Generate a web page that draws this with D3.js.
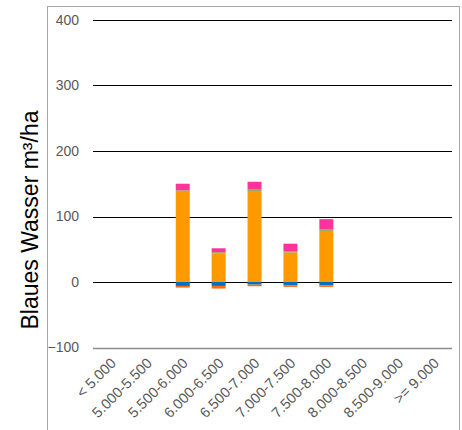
<!DOCTYPE html>
<html><head><meta charset="utf-8">
<script src="https://cdn.jsdelivr.net/npm/d3@7"></script>
<style>body{margin:0;background:#fff}svg{display:block}</style>
</head><body><svg id="c" width="462" height="430"></svg>
<script>
const categories = ["< 5.000","5.000-5.500","5.500-6.000","6.000-6.500","6.500-7.000","7.000-7.500","7.500-8.000","8.000-8.500","8.500-9.000",">= 9.000"];
const blueSeries   = [0,0,-6,-6,-4,-5,-5,0,0,0];
const redSeries    = [0,0,-2.5,-4,-2.5,-2.5,-2.5,0,0,0];
const orangeSeries = [0,0,139,44,139,45,78,0,0,0];
const greenSeries  = [0,0,1,1.5,2,1.5,2,0,0,0];
const pinkSeries   = [0,0,10,6,12,12,16,0,0,0];
const yTicks = [-100,0,100,200,300,400];

const seriesList = [
  {name:"blue", values:blueSeries, color:"#0070C0"},
  {name:"red", values:redSeries, color:"#FF6A10"},
  {name:"orange", values:orangeSeries, color:"#FF9900"},
  {name:"green", values:greenSeries, color:"#8FA85A"},
  {name:"pink", values:pinkSeries, color:"#FF3399"}
];

const svg = d3.select("#c");
// frame
svg.append("rect").attr("x",47.5).attr("y",6.5).attr("width",412).attr("height",440)
  .attr("fill","none").attr("stroke","#A6A6A6").attr("stroke-width",1);

const x = d3.scaleBand().domain(categories).range([93,452]).paddingInner(0.61).paddingOuter(0.305);
const y = d3.scaleLinear().domain([-100,400]).range([347.5,20]);

// gridlines
const grid = svg.append("g");
grid.selectAll("line").data(yTicks).join("line")
  .attr("x1",93).attr("x2",452)
  .attr("y1",d=>Math.round(y(d))+0.5).attr("y2",d=>Math.round(y(d))+0.5)
  .attr("stroke",d=>d===-100?"#8C8C8C":"#000").attr("stroke-width",d=>d===-100?1.5:1);

// y labels
const yAxis = d3.axisLeft(y).tickValues(yTicks).tickSize(0).tickPadding(0);
const ya = svg.append("g").attr("transform","translate(79,0)").call(yAxis);
ya.select(".domain").remove();
ya.selectAll("text").attr("fill","#595959").style("font-family","Liberation Sans, Arial, sans-serif").style("font-size","14px");

// stacked bars (positive and negative stacked separately)
categories.forEach((c,i)=>{
  let pos=0, neg=0;
  seriesList.forEach(s=>{
    const v=s.values[i];
    if(v===0) return;
    let y0,y1;
    if(v>0){y0=pos;y1=pos+v;pos=y1;} else {y0=neg;y1=neg+v;neg=y1;}
    svg.append("rect")
      .attr("x",x(c)).attr("width",x.bandwidth())
      .attr("y",y(Math.max(y0,y1))).attr("height",Math.abs(y(y0)-y(y1)))
      .attr("fill",s.color);
  });
});

// x labels
const xa = svg.append("g");
xa.selectAll("text").data(categories).join("text")
  .attr("transform",d=>`translate(${x(d)+x.bandwidth()/2+6},${364}) rotate(-45)`)
  .attr("text-anchor","end")
  .attr("fill","#595959")
  .style("font-family","Liberation Sans, Arial, sans-serif").style("font-size","14.5px")
  .text(d=>d);

// y title
svg.append("text").attr("transform","translate(38,220) rotate(-90)")
  .attr("text-anchor","middle").attr("fill","#000")
  .style("font-family","Liberation Sans, Arial, sans-serif").style("font-size","23px")
  .text("Blaues Wasser m³/ha");
</script></body></html>
